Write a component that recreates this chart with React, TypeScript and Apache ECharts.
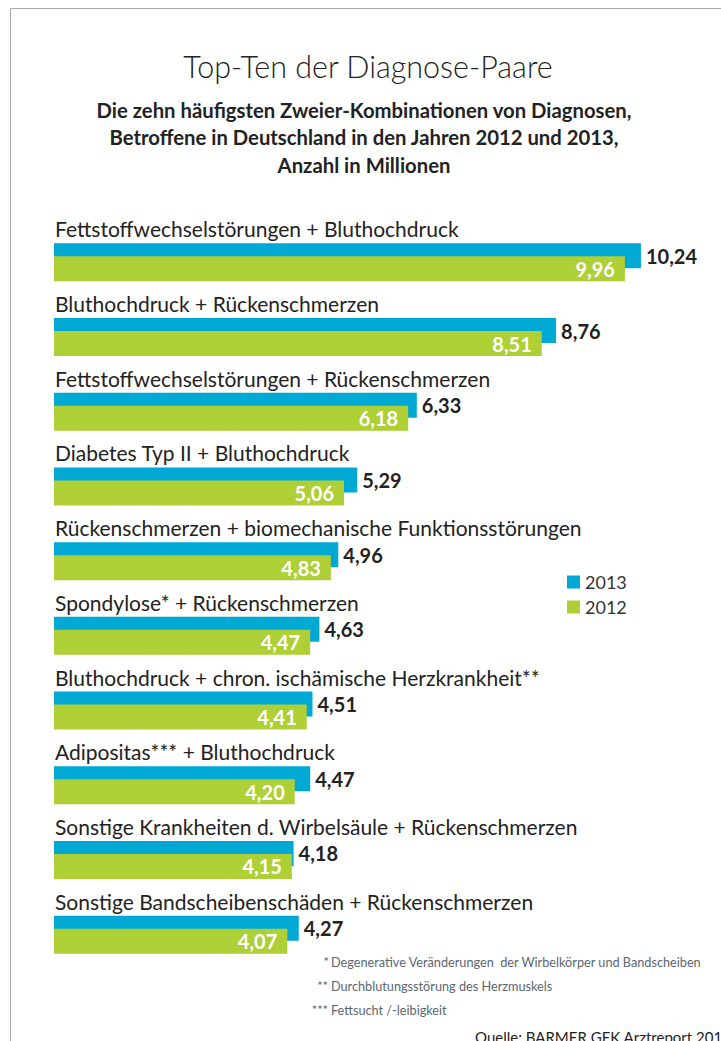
import React, { useEffect, useRef } from "react";
import * as echarts from "echarts";

const categories = [
  "Fettstoffwechselstörungen + Bluthochdruck",
  "Bluthochdruck + Rückenschmerzen",
  "Fettstoffwechselstörungen + Rückenschmerzen",
  "Diabetes Typ II + Bluthochdruck",
  "Rückenschmerzen + biomechanische Funktionsstörungen",
  "Spondylose* + Rückenschmerzen",
  "Bluthochdruck + chron. ischämische Herzkrankheit**",
  "Adipositas*** + Bluthochdruck",
  "Sonstige Krankheiten d. Wirbelsäule + Rückenschmerzen",
  "Sonstige Bandscheibenschäden + Rückenschmerzen",
];
const values2013 = [10.24, 8.76, 6.33, 5.29, 4.96, 4.63, 4.51, 4.47, 4.18, 4.27];
const values2012 = [9.96, 8.51, 6.18, 5.06, 4.83, 4.47, 4.41, 4.2, 4.15, 4.07];
const seriesNames = ["2013", "2012"];

const titleText = "Top-Ten der Diagnose-Paare";
const subtitleText =
  "Die zehn häufigsten Zweier-Kombinationen von Diagnosen,\nBetroffene in Deutschland in den Jahren 2012 und 2013,\nAnzahl in Millionen";
const footnoteMarks = ["*", "**", "***"];
const footnotes = [
  "Degenerative Veränderungen  der Wirbelkörper und Bandscheiben",
  "Durchblutungsstörung des Herzmuskels",
  "Fettsucht /-leibigkeit",
];
const sourceText = "Quelle: BARMER GEK Arztreport 2014";

const FONT = "Lato, 'Open Sans', sans-serif";
const BLUE = "#00A9D4";
const GREEN = "#AECF36";
const NOTE = "#5b6670";

const fmt = (v: number) => v.toFixed(2).replace(".", ",");

export default function App() {
  const ref = useRef<HTMLDivElement>(null);
  useEffect(() => {
    if (!ref.current) return;
    const chart = echarts.init(ref.current, undefined, { renderer: "svg" });
    const noteY = [962, 986, 1010];
    const noteGraphics: any[] = [];
    footnotes.forEach((t, i) => {
      noteGraphics.push({
        type: "text",
        x: 331,
        y: noteY[i],
        style: { text: t, fontFamily: FONT, fontSize: 12.7, fill: NOTE, verticalAlign: "middle" },
      });
      noteGraphics.push({
        type: "text",
        x: i === 0 ? 329 : 328,
        y: noteY[i],
        style: {
          text: footnoteMarks[i],
          fontFamily: FONT,
          fontSize: 12.7,
          fill: NOTE,
          align: "right",
          verticalAlign: "middle",
        },
      });
    });
    const option: any = {
      animation: false,
      backgroundColor: "#ffffff",
      textStyle: { fontFamily: FONT },
      title: [
        {
          text: titleText,
          left: 363,
          top: 45,
          textAlign: "center",
          textStyle: { fontFamily: FONT, fontSize: 30.5, fontWeight: 300, color: "#222" },
        },
        {
          text: subtitleText,
          left: 359,
          top: 91,
          textAlign: "center",
          textStyle: {
            fontFamily: FONT,
            fontSize: 20.3,
            fontWeight: "bold",
            color: "#222",
            lineHeight: 27.5,
          },
        },
      ],
      legend: {
        orient: "vertical",
        left: 567,
        top: 573,
        padding: 0,
        icon: "rect",
        itemWidth: 13,
        itemHeight: 13,
        itemGap: 7,
        data: seriesNames,
        textStyle: { fontFamily: FONT, fontSize: 18, color: "#333" },
      },
      grid: { left: 54, top: 225, width: 630.5, height: 747 },
      xAxis: {
        type: "value",
        min: 0,
        max: 11,
        show: false,
      },
      yAxis: {
        type: "category",
        data: categories,
        inverse: true,
        axisLine: { show: false },
        axisTick: { show: false },
        splitLine: { show: false },
        axisLabel: {
          inside: true,
          interval: 0,
          margin: 1,
          verticalAlign: "bottom",
          lineHeight: 67,
          fontFamily: FONT,
          fontSize: 21,
          color: "#222",
        },
      },
      series: [
        {
          name: seriesNames[0],
          type: "bar",
          data: values2013,
          barWidth: 25,
          barGap: "-48%",
          itemStyle: { color: BLUE },
          label: {
            show: true,
            position: "right",
            distance: 5,
            formatter: (p: any) => fmt(p.value),
            fontFamily: FONT,
            fontSize: 20,
            fontWeight: "bold",
            color: "#222",
          },
        },
        {
          name: seriesNames[1],
          type: "bar",
          data: values2012,
          barWidth: 25,
          itemStyle: { color: GREEN },
          label: {
            show: true,
            position: "insideRight",
            distance: 10,
            formatter: (p: any) => fmt(p.value),
            fontFamily: FONT,
            fontSize: 20,
            fontWeight: "bold",
            color: "#ffffff",
          },
        },
      ],
      graphic: [
        {
          type: "line",
          shape: { x1: 10.5, y1: 8.5, x2: 721, y2: 8.5 },
          style: { stroke: "#aaaaaa", lineWidth: 1 },
        },
        {
          type: "line",
          shape: { x1: 10.5, y1: 8.5, x2: 10.5, y2: 1041 },
          style: { stroke: "#aaaaaa", lineWidth: 1 },
        },
        ...noteGraphics,
        {
          type: "text",
          x: 475,
          y: 1029,
          style: { text: sourceText, fontFamily: FONT, fontSize: 15, fill: "#222", verticalAlign: "top" },
        },
      ],
    };
    chart.setOption(option);
    return () => chart.dispose();
  }, []);
  return (
    <div
      ref={ref}
      style={{ position: "absolute", left: 0, top: 0, width: 721, height: 1041, overflow: "hidden" }}
    />
  );
}
